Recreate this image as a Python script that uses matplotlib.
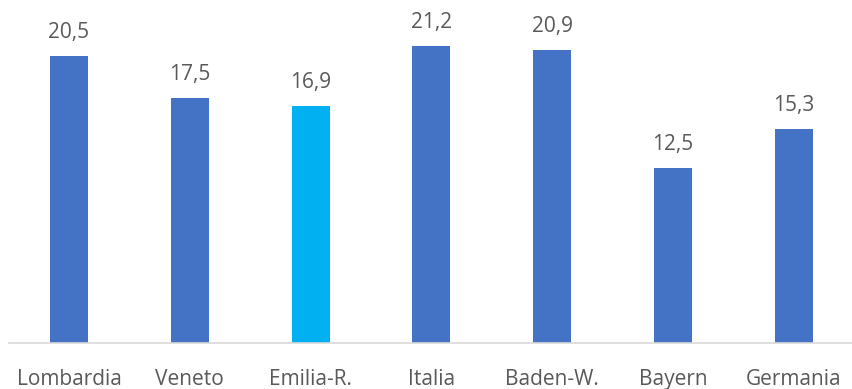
import matplotlib
matplotlib.use("Agg")
import matplotlib.pyplot as plt

regions = ["Lombardia", "Veneto", "Emilia-R.", "Italia", "Baden-W.", "Bayern", "Germania"]
values = [20.5, 17.5, 16.9, 21.2, 20.9, 12.5, 15.3]
highlight = "Emilia-R."

BLUE = "#4472C4"
CYAN = "#00B0F0"
TEXT = "#595959"

plt.rcParams["font.family"] = ["Open Sans", "DejaVu Sans"]

fig = plt.figure(figsize=(8.52, 3.89), dpi=100)
W, H = 852, 389
left_px, base_px, slot = 8.6, 343, 120.8
ymax = 24
unit = 14.0
ax = fig.add_axes([left_px / W, (H - base_px) / H, 7 * slot / W, ymax * unit / H])

colors = [CYAN if r == highlight else BLUE for r in regions]
x = range(len(regions))
ax.bar(x, values, width=0.315, color=colors, zorder=2)

for xi, v in zip(x, values):
    ax.annotate(f"{v:.1f}".replace(".", ","), (xi, v), xytext=(0, 13),
                textcoords="offset points", ha="center", va="baseline",
                fontsize=15, color=TEXT)

ax.set_xlim(-0.5, 6.5)
ax.set_ylim(0, ymax)
ax.set_yticks([])
ax.set_xticks(list(x))
ax.set_xticklabels(regions, fontsize=15, color=TEXT)
ax.tick_params(axis="x", length=0, pad=18.5)
for s in ["top", "right", "left"]:
    ax.spines[s].set_visible(False)
ax.spines["bottom"].set_color("#D9D9D9")
ax.spines["bottom"].set_linewidth(1.2)

fig.savefig("out.png", dpi=100)
